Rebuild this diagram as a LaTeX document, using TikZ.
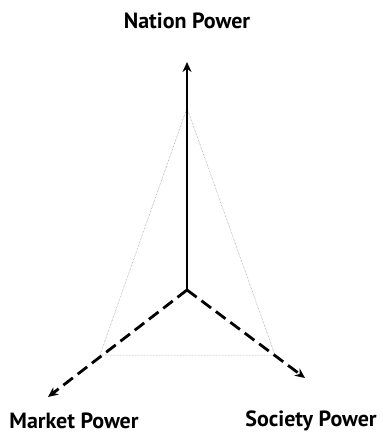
\documentclass[tikz,border=0pt]{standalone}
\usepackage{fontspec}
\setmainfont{PT Sans}
\usetikzlibrary{arrows.meta}
\definecolor{powInk}{HTML}{000000}
\definecolor{powGrey}{HTML}{8A8A8A}

\begin{document}
\begin{tikzpicture}[x=1pt, y=-1pt]
  % Three axes from one origin: nation (up), market and society (down, dashed)
  \useasboundingbox (0,0) rectangle (382,435);
  \tikzset{
    axis/.style={powInk, line width=2.8pt, -{Stealth[length=10pt, width=9pt]}},
    axisdash/.style={axis, dash pattern=on 12pt off 6pt},
    span/.style={powGrey, line width=0.5pt, densely dotted},
    caption/.style={font=\fontsize{22}{25}\selectfont\bfseries, text=powInk, inner sep=1pt}
  }
  \coordinate (origin) at (187,290);
  \coordinate (nationtip) at (187,62);
  \coordinate (markettip) at (48,397);
  \coordinate (societytip) at (305,378);
  % Corners of the thin triangle
  \coordinate (top) at (187,108);
  \coordinate (left) at (100,355);
  \coordinate (right) at (275,355);
  \draw[span] (top) -- (left) -- (right) -- cycle;
  % Axes
  \draw[axis] (origin) -- (nationtip);
  \draw[axisdash] (origin) -- (markettip);
  \draw[axisdash] (origin) -- (societytip);
  % Labels
  \node[caption] (nation) at (187,21) {Nation Power};
  \node[caption] (market) at (74,421) {Market Power};
  \node[caption] (society) at (311,421) {Society Power};
\end{tikzpicture}
\end{document}
